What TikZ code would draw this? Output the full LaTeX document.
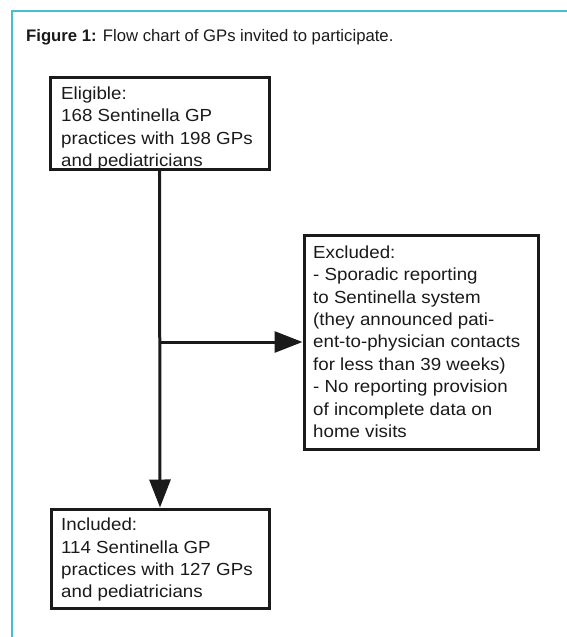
\documentclass[tikz,border=0pt]{standalone}
\usepackage{fontspec}
\setmainfont{Liberation Sans}
\newfontfamily\boxfont{Liberation Sans}[FakeStretch=1.07]
\usetikzlibrary{arrows.meta}
\definecolor{frameteal}{RGB}{72,190,208}
\definecolor{inkdark}{RGB}{26,26,26}
\begin{document}
\begin{tikzpicture}[x=1pt,y=-1pt,
  flowbox/.style={draw=inkdark, line width=3pt, rectangle, inner sep=0pt, anchor=north west},
  boxtext/.style={anchor=north west, inner sep=0pt, align=left, text=inkdark,
    font={\boxfont\fontsize{17.5}{22.4}\selectfont}},
  flowarrow/.style={draw=inkdark, line width=3pt, -{Triangle[length=28pt,width=21pt]}},
  frameline/.style={draw=frameteal, line width=2pt}
]
\useasboundingbox (0,0) rectangle (567,637);
% frame
\coordinate (ftl) at (12.3,11);
\coordinate (ftr) at (567,11);
\coordinate (fbl) at (12.3,637);
\draw[frameline] (ftr) -- (ftl) -- (fbl);
% title
\node[anchor=base west, inner sep=0pt, text=inkdark, font={\fontsize{16.7}{20}\selectfont}] (title) at (26,41.3)
  {\textbf{Figure 1:} Flow chart of GPs invited to participate.};
% boxes
\node[flowbox, minimum width=219pt, minimum height=92pt] (elig) at (48.5,75.5) {};
\node[flowbox, minimum width=234pt, minimum height=214pt] (excl) at (302.5,233.5) {};
\node[flowbox, minimum width=218pt, minimum height=99pt] (incl) at (49.5,507.5) {};
% texts
\node[boxtext] (eligtxt) at (61,86) {\rule{0pt}{13pt}Eligible:\\168 Sentinella GP\\practices with 198 GPs\\and pediatricians};
\node[boxtext] (excltxt) at (313,245) {\rule{0pt}{13pt}Excluded:\\- Sporadic reporting\\to Sentinella system\\(they announced pati-\\ent-to-physician contacts\\for less than 39 weeks)\\- No reporting provision\\of incomplete data on\\home visits};
\node[boxtext] (incltxt) at (61,517.5) {\rule{0pt}{13pt}Included:\\114 Sentinella GP\\practices with 127 GPs\\and pediatricians};
% connectors
\draw[flowarrow] (elig.south) -- (incl.north);
\coordinate (branch) at (elig.south |- excl.west);
\draw[flowarrow] (branch) -- (excl.west);
\end{tikzpicture}
\end{document}
